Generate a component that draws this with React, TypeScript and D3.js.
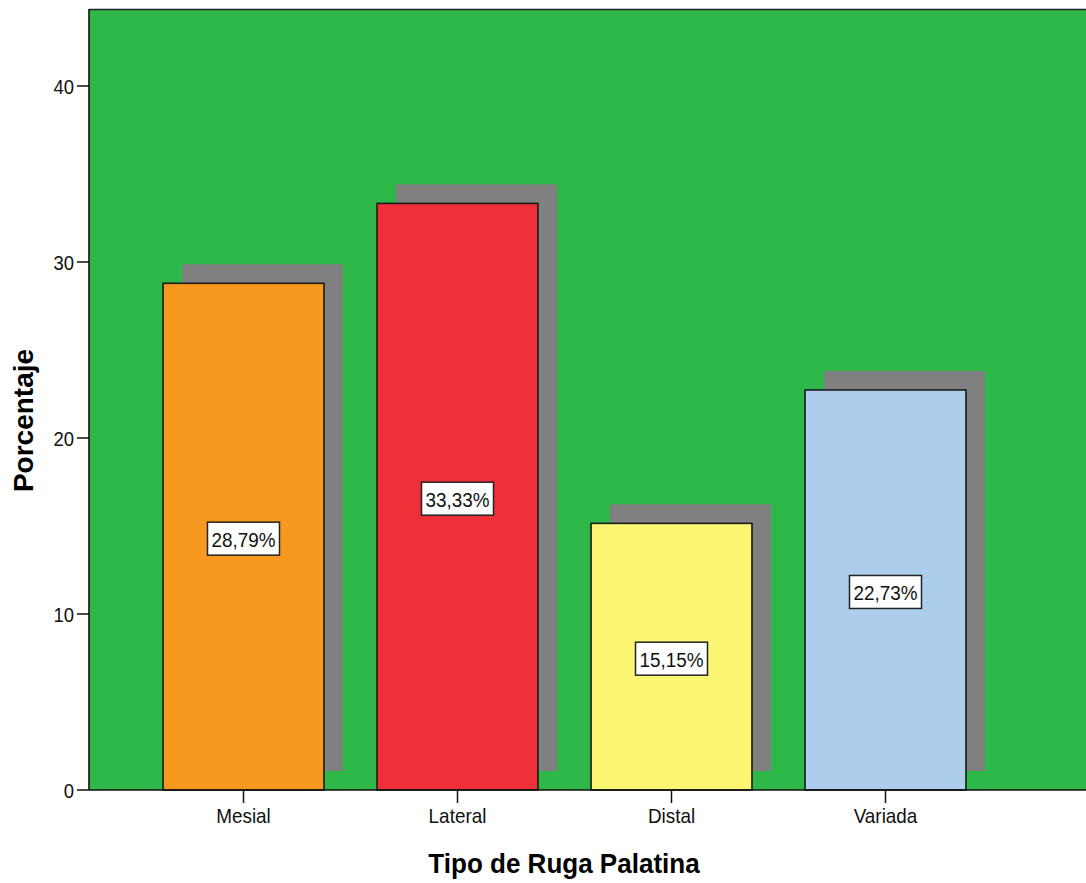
import React from "react";
import * as d3 from "d3";

const categories = ["Mesial", "Lateral", "Distal", "Variada"];
const percentages = [28.79, 33.33, 15.15, 22.73];
const valueLabels = ["28,79%", "33,33%", "15,15%", "22,73%"];
const barColors = ["#F7991F", "#EF3039", "#FAF672", "#ACCEEC"];
const yTicks = [0, 10, 20, 30, 40];

const W = 1086;
const H = 883;
const plotLeft = 89;
const plotTop = 9;
const plotBottom = 790;
const plotRight = 1086;
const shadowOffset = 19;

export default function App() {
  const x = d3
    .scaleBand<string>()
    .domain(categories)
    .range([136.5, 992.5])
    .paddingInner(0.248)
    .paddingOuter(0.124);
  const y = d3.scaleLinear().domain([0, 44.375]).range([plotBottom, plotTop]);
  const bw = x.bandwidth();
  const font = "Arial, 'Liberation Sans', sans-serif";

  return (
    <svg
      width={W}
      height={H}
      style={{ position: "absolute", left: 0, top: 0, background: "#fff" }}
    >
      <rect
        x={plotLeft}
        y={plotTop}
        width={plotRight - plotLeft}
        height={plotBottom - plotTop}
        fill="#2EB84A"
      />
      <line x1={plotLeft} x2={plotRight} y1={plotTop + 0.5} y2={plotTop + 0.5} stroke="#222" strokeWidth={1.5} />
      {/* shadows */}
      {categories.map((c, i) => (
        <rect
          key={"s" + c}
          x={(x(c) as number) + shadowOffset}
          y={y(percentages[i]) - shadowOffset}
          width={bw}
          height={y(0) - y(percentages[i])}
          fill="#808080"
        />
      ))}
      {/* bars */}
      {categories.map((c, i) => (
        <rect
          key={"b" + c}
          x={x(c) as number}
          y={y(percentages[i])}
          width={bw}
          height={y(0) - y(percentages[i])}
          fill={barColors[i]}
          stroke="#1a1a1a"
          strokeWidth={1.6}
        />
      ))}
      {/* data labels */}
      {categories.map((c, i) => {
        const cx = (x(c) as number) + bw / 2;
        const cy = y(percentages[i] / 2) + 2;
        return (
          <g key={"l" + c}>
            <rect
              x={cx - 36}
              y={cy - 16.5}
              width={72}
              height={33}
              fill="#fff"
              stroke="#222"
              strokeWidth={1.5}
            />
            <text
              transform={`translate(${cx},${cy + 8}) scale(0.9,1)`}
              textAnchor="middle"
              fontFamily={font}
              fontSize={21}
              fill="#111"
            >
              {valueLabels[i]}
            </text>
          </g>
        );
      })}
      {/* axes */}
      <line x1={plotLeft} x2={plotLeft} y1={plotTop} y2={plotBottom} stroke="#111" strokeWidth={1.6} />
      <line x1={plotLeft} x2={plotRight} y1={plotBottom} y2={plotBottom} stroke="#111" strokeWidth={1.6} />
      {yTicks.map((t) => (
        <g key={"yt" + t}>
          <line x1={77} x2={plotLeft} y1={y(t)} y2={y(t)} stroke="#111" strokeWidth={1.5} />
          <text
            transform={`translate(74,${y(t) + 8}) scale(0.88,1)`}
            textAnchor="end"
            fontFamily={font}
            fontSize={21}
            fill="#111"
          >
            {t}
          </text>
        </g>
      ))}
      {categories.map((c) => {
        const cx = (x(c) as number) + bw / 2;
        return (
          <g key={"xt" + c}>
            <line x1={cx} x2={cx} y1={plotBottom} y2={plotBottom + 13} stroke="#111" strokeWidth={1.5} />
            <text
              transform={`translate(${cx},823) scale(0.9,1)`}
              textAnchor="middle"
              fontFamily={font}
              fontSize={21}
              fill="#111"
            >
              {c}
            </text>
          </g>
        );
      })}
      <text
        transform={`translate(564,873) scale(0.93,1)`}
        textAnchor="middle"
        fontFamily={font}
        fontSize={28}
        fontWeight="bold"
        fill="#000"
      >
        Tipo de Ruga Palatina
      </text>
      <text
        transform={`translate(33,420.5) rotate(-90)`}
        textAnchor="middle"
        fontFamily={font}
        fontSize={28}
        fontWeight="bold"
        fill="#000"
      >
        Porcentaje
      </text>
    </svg>
  );
}
